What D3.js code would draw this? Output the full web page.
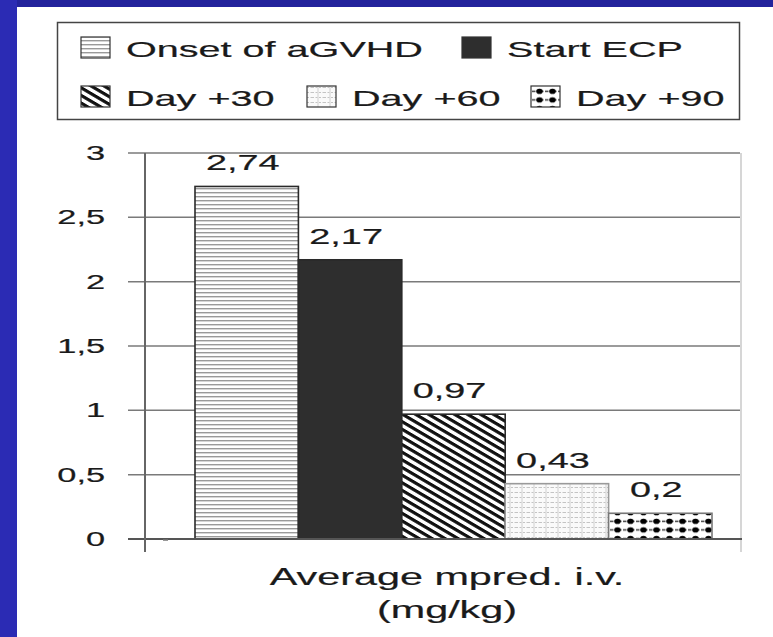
<!DOCTYPE html>
<html>
<head>
<meta charset="utf-8">
<script src="https://cdn.jsdelivr.net/npm/d3@7"></script>
<style>
  html, body { margin: 0; padding: 0; background: #ffffff; }
  svg { display: block; }
  text { font-family: "Liberation Sans", Arial, sans-serif; fill: #1a1a1a; stroke: #1a1a1a; stroke-width: 0.2; }
</style>
</head>
<body>
<script>
// ---- data ----
const categories = ["Onset of aGVHD", "Start ECP", "Day +30", "Day +60", "Day +90"];
const values = [2.74, 2.17, 0.97, 0.43, 0.2];
const valueLabels = ["2,74", "2,17", "0,97", "0,43", "0,2"];
const yTickValues = [0, 0.5, 1, 1.5, 2, 2.5, 3];
const yTickLabels = ["0", "0,5", "1", "1,5", "2", "2,5", "3"];
const axisTitle = ["Average mpred. i.v.", "(mg/kg)"];
const patternIds = ["pH", "pS", "pD", "pL", "pC"];
const legendRows = [[0, 1], [2, 3, 4]];

// ---- layout ----
const W = 773, H = 637;
const SX = 1.76; // horizontal stretch of the original picture
const svg = d3.select("body").append("svg").attr("width", W).attr("height", H);

svg.append("rect").attr("width", W).attr("height", H).attr("fill", "#ffffff");
svg.append("rect").attr("x", 0).attr("y", 0).attr("width", W).attr("height", 7).attr("fill", "#23239c");
svg.append("rect").attr("x", 0).attr("y", 0).attr("width", 17).attr("height", H).attr("fill", "#2b2bb4");

// ---- patterns ----
const defs = svg.append("defs");
let p = defs.append("pattern").attr("id", "pH").attr("patternUnits", "userSpaceOnUse").attr("width", 8).attr("height", 4);
p.append("rect").attr("width", 8).attr("height", 4).attr("fill", "#ffffff");
p.append("rect").attr("y", 0).attr("width", 8).attr("height", 1.4).attr("fill", "#9a9a9a");
p = defs.append("pattern").attr("id", "pS").attr("patternUnits", "userSpaceOnUse").attr("width", 4).attr("height", 4);
p.append("rect").attr("width", 4).attr("height", 4).attr("fill", "#2e2e2e");
p = defs.append("pattern").attr("id", "pD").attr("patternUnits", "userSpaceOnUse").attr("width", 5.4).attr("height", 5.4)
  .attr("patternTransform", "scale(1.7,1) rotate(45)");
p.append("rect").attr("width", 5.4).attr("height", 5.4).attr("fill", "#ffffff");
p.append("rect").attr("width", 5.4).attr("height", 2.6).attr("fill", "#111111");
p = defs.append("pattern").attr("id", "pL").attr("patternUnits", "userSpaceOnUse").attr("width", 12).attr("height", 5);
p.append("rect").attr("width", 12).attr("height", 5).attr("fill", "#fafafa");
p.append("line").attr("x1", 0).attr("x2", 12).attr("y1", 2.5).attr("y2", 2.5).attr("stroke", "#c4c4c4").attr("stroke-width", 1).attr("stroke-dasharray", "2,1.5");
p.append("line").attr("x1", 6).attr("x2", 6).attr("y1", 0).attr("y2", 5).attr("stroke", "#d0d0d0").attr("stroke-width", 1);
p = defs.append("pattern").attr("id", "pC").attr("patternUnits", "userSpaceOnUse").attr("width", 13).attr("height", 8.6).attr("y", 1);
p.append("rect").attr("width", 13).attr("height", 8.6).attr("fill", "#ffffff");
p.append("line").attr("x1", 0).attr("x2", 13).attr("y1", 4.3).attr("y2", 4.3).attr("stroke", "#333").attr("stroke-width", 1.3).attr("stroke-dasharray", "2.5,1.5");
p.append("ellipse").attr("cx", 6.5).attr("cy", 4.3).attr("rx", 3.3).attr("ry", 2.7).attr("fill", "#000");

function stext(x, y, str, size, anchor) {
  const g = svg.append("g").attr("transform", `translate(${x},${y}) scale(${SX},1)`);
  g.append("text").attr("x", 0).attr("y", 0).attr("font-size", size).attr("text-anchor", anchor || "start").text(str);
  return g;
}

// ---- legend ----
svg.append("rect").attr("x", 57.5).attr("y", 22.5).attr("width", 682).attr("height", 97)
  .attr("fill", "#ffffff").attr("stroke", "#444").attr("stroke-width", 1.5);
const legendX = [[81, 462], [81, 307, 531]];
const legendY = [57, 106];
legendRows.forEach((row, ri) => {
  row.forEach((ci, k) => {
    const x = legendX[ri][k];
    svg.append("rect").attr("x", x).attr("y", legendY[ri] - 20).attr("width", 29).attr("height", 21)
      .attr("fill", `url(#${patternIds[ci]})`).attr("stroke", "#333").attr("stroke-width", 1.2);
    stext(x + 45, legendY[ri], categories[ci], 22.5);
  });
});

// ---- scales ----
const y = d3.scaleLinear().domain([0, 3]).range([539, 153]);
const x = d3.scaleBand().domain(categories).range([195, 712]).padding(0);
const plotLeft = 145, plotRight = 740, tickLeft = 128;

svg.append("g").selectAll("line").data(yTickValues.filter(v => v > 0)).join("line")
  .attr("x1", tickLeft).attr("x2", plotRight)
  .attr("y1", d => y(d)).attr("y2", d => y(d))
  .attr("stroke", "#7a7a7a").attr("stroke-width", 1.5);

svg.append("line").attr("x1", plotRight + 1).attr("x2", plotRight + 1).attr("y1", y(3)).attr("y2", 552)
  .attr("stroke", "#c8c8c8").attr("stroke-width", 1.5);

svg.append("g").selectAll("rect").data(categories).join("rect")
  .attr("x", d => x(d)).attr("width", x.bandwidth())
  .attr("y", (d, i) => y(values[i])).attr("height", (d, i) => y(0) - y(values[i]))
  .attr("fill", (d, i) => `url(#${patternIds[i]})`)
  .attr("stroke", (d, i) => i === 3 ? "#9a9a9a" : (i === 4 ? "#777" : "#2a2a2a"))
  .attr("stroke-width", 1.6);

svg.append("line").attr("x1", tickLeft).attr("x2", plotRight + 2).attr("y1", y(0)).attr("y2", y(0))
  .attr("stroke", "#555").attr("stroke-width", 1.8);
svg.append("line").attr("x1", plotLeft).attr("x2", plotLeft).attr("y1", y(3)).attr("y2", 552)
  .attr("stroke", "#666").attr("stroke-width", 2);
svg.append("line").attr("x1", 163).attr("x2", 168).attr("y1", y(0) + 1).attr("y2", y(0) + 1)
  .attr("stroke", "#777").attr("stroke-width", 1.5);

yTickValues.forEach((v, i) => stext(105, y(v) + 7, yTickLabels[i], 19.5, "end"));

categories.forEach((c, i) => stext(x(c) + x.bandwidth() / 2 - 4, y(values[i]) - 16, valueLabels[i], 21.5, "middle"));

stext(447, 585, axisTitle[0], 23.5, "middle");
stext(447, 618, axisTitle[1], 23.5, "middle");
</script>
</body>
</html>
